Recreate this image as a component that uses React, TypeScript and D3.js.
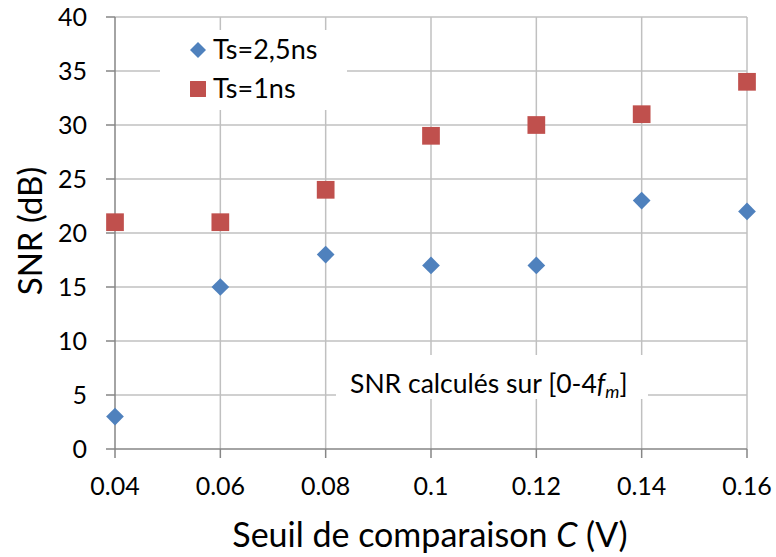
import React, { useEffect, useRef } from 'react';
import * as d3 from 'd3';

const thresholds = [0.04, 0.06, 0.08, 0.1, 0.12, 0.14, 0.16];
const xTickLabels = ['0.04', '0.06', '0.08', '0.1', '0.12', '0.14', '0.16'];
const snrTs25 = [3, 15, 18, 17, 17, 23, 22];
const snrTs1 = [21, 21, 24, 29, 30, 31, 34];
const yTicks = [0, 5, 10, 15, 20, 25, 30, 35, 40];
const seriesNames = ['Ts=2,5ns', 'Ts=1ns'];

const FONT = 'Lato, "Open Sans", sans-serif';

function App() {
	const ref = useRef<SVGSVGElement>(null);

	useEffect(() => {
		const w = 776;
		const h = 557;
		const left = 115;
		const right = 747;
		const top = 17;
		const bottom = 449;

		const svg = d3.select(ref.current);
		svg.selectAll('*').remove();
		svg.append('rect').attr('width', w).attr('height', h).attr('fill', 'white');

		const x = d3.scaleLinear().domain([0.04, 0.16]).range([left, right]);
		const y = d3.scaleLinear().domain([0, 40]).range([bottom, top]);

		// grid
		svg.selectAll('.hgrid')
			.data(yTicks.slice(1))
			.enter()
			.append('line')
			.attr('x1', left).attr('x2', right)
			.attr('y1', d => y(d)).attr('y2', d => y(d))
			.attr('stroke', '#c0c0c0').attr('stroke-width', 1.5);
		svg.selectAll('.vgrid')
			.data(thresholds.slice(1))
			.enter()
			.append('line')
			.attr('x1', d => x(d)).attr('x2', d => x(d))
			.attr('y1', top).attr('y2', bottom)
			.attr('stroke', '#c0c0c0').attr('stroke-width', 1.5);

		// axes
		svg.append('line').attr('x1', left).attr('x2', left).attr('y1', top).attr('y2', bottom)
			.attr('stroke', '#868686').attr('stroke-width', 1.5);
		svg.append('line').attr('x1', left).attr('x2', right).attr('y1', bottom).attr('y2', bottom)
			.attr('stroke', '#868686').attr('stroke-width', 1.5);
		svg.selectAll('.ytick')
			.data(yTicks)
			.enter()
			.append('line')
			.attr('x1', left - 9).attr('x2', left)
			.attr('y1', d => y(d)).attr('y2', d => y(d))
			.attr('stroke', '#868686').attr('stroke-width', 1.5);
		svg.selectAll('.xtick')
			.data(thresholds)
			.enter()
			.append('line')
			.attr('x1', d => x(d)).attr('x2', d => x(d))
			.attr('y1', bottom).attr('y2', bottom + 9)
			.attr('stroke', '#868686').attr('stroke-width', 1.5);

		svg.selectAll('.ylab')
			.data(yTicks)
			.enter()
			.append('text')
			.text(d => d)
			.attr('x', left - 28)
			.attr('y', d => y(d) + 9)
			.attr('text-anchor', 'end')
			.attr('font-family', FONT).attr('font-size', 25).attr('fill', '#000');
		svg.selectAll('.xlab')
			.data(thresholds)
			.enter()
			.append('text')
			.text((d, i) => xTickLabels[i])
			.attr('x', d => x(d))
			.attr('y', bottom + 46)
			.attr('text-anchor', 'middle')
			.attr('font-family', FONT).attr('font-size', 25).attr('fill', '#000');

		// titles
		const xt = svg.append('text')
			.attr('x', 430).attr('y', 547)
			.attr('text-anchor', 'middle')
			.attr('font-family', FONT).attr('font-size', 34).attr('fill', '#000');
		xt.append('tspan').text('Seuil de comparaison ');
		xt.append('tspan').attr('font-style', 'italic').text('C');
		xt.append('tspan').text(' (V)');

		svg.append('text')
			.attr('transform', 'translate(42,231) rotate(-90)')
			.attr('text-anchor', 'middle')
			.attr('font-family', FONT).attr('font-size', 33).attr('fill', '#000')
			.text('SNR (dB)');

		// annotation box
		svg.append('rect').attr('x', 336).attr('y', 355).attr('width', 312).attr('height', 44).attr('fill', 'white');
		const note = svg.append('text')
			.attr('x', 350).attr('y', 393)
			.attr('font-family', FONT).attr('font-size', 26.5).attr('fill', '#000');
		note.append('tspan').text('SNR calculés sur [0-4');
		note.append('tspan').attr('font-style', 'italic').text('f');
		note.append('tspan').attr('font-style', 'italic').attr('font-size', 18).attr('dy', 5).text('m');
		note.append('tspan').attr('dy', -5).text(']');

		// legend box
		svg.append('rect').attr('x', 160).attr('y', 30).attr('width', 187).attr('height', 80).attr('fill', 'white');

		const diamond = d3.symbol().type(d3.symbolDiamond2).size(200);
		const square = d3.symbol().type(d3.symbolSquare2).size(400);

		svg.selectAll('.s1')
			.data(snrTs25)
			.enter()
			.append('path')
			.attr('d', diamond)
			.attr('transform', (d, i) => `translate(${x(thresholds[i])},${y(d)})`)
			.attr('fill', '#4f81bd');
		svg.selectAll('.s2')
			.data(snrTs1)
			.enter()
			.append('path')
			.attr('d', square)
			.attr('transform', (d, i) => `translate(${x(thresholds[i])},${y(d)})`)
			.attr('fill', '#c0504d');

		// legend entries
		const legendColors = ['#4f81bd', '#c0504d'];
		const legendSymbols = [diamond, square];
		seriesNames.forEach((name, i) => {
			svg.append('path')
				.attr('d', legendSymbols[i])
				.attr('transform', `translate(198,${50 + i * 39}) scale(0.9)`)
				.attr('fill', legendColors[i]);
			svg.append('text')
				.text(name)
				.attr('x', 213).attr('y', 59 + i * 39)
				.attr('font-family', FONT).attr('font-size', 27).attr('fill', '#000');
		});
	}, []);

	return <svg ref={ref} width={776} height={557} style={{ position: 'absolute', left: 0, top: 0 }} />;
}

export default App;
